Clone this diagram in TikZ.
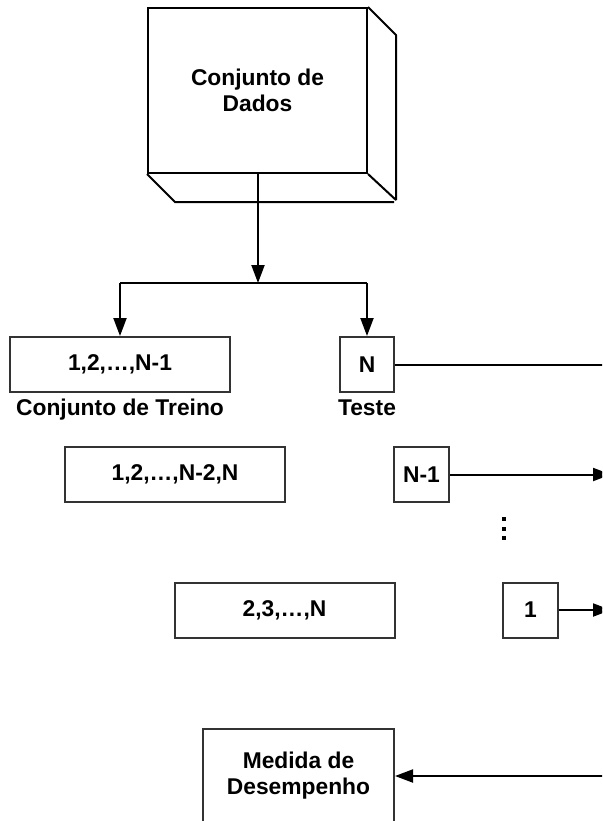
\documentclass[tikz,border=0pt]{standalone}
\usepackage{fontspec}
\setmainfont{Liberation Sans}
\usetikzlibrary{arrows.meta,positioning}
\newcommand{\larg}{602}
\newcommand{\alt}{821}
\newcommand{\prof}{28}

\tikzset{
  caixa/.style={draw=black!80, line width=1pt, fill=white, inner sep=0pt,
    minimum height=27.5pt, align=center,
    font=\fontsize{11.4}{13}\selectfont\bfseries},
  rotulo/.style={inner sep=0pt, font=\fontsize{11.4}{13}\selectfont\bfseries},
  seta/.style={line width=1pt, -{Triangle[length=9pt,width=6.5pt]}},
  linha/.style={line width=1pt},
  ponto/.style={fill=black, inner sep=0pt, minimum size=2pt},
}

\begin{document}
\begin{tikzpicture}[x=0.5pt, y=-0.5pt]
    \useasboundingbox (0,0) rectangle (\larg,\alt);
    \clip (0,0) rectangle (\larg,\alt);
    %
    \node[caixa, draw=black, minimum width=109.5pt,
          minimum height=82.5pt] (dados) at (257.5,90.5)
        {Conjunto de\\Dados};
    \draw[linha, line join=bevel] (dados.north east) -- ++(\prof,\prof)
        -- ++(0,165) -- (dados.south east);
    \draw[linha] (dados.south west) -- ++(\prof,\prof) -- ++(219,0);

    % divisao em treino e teste
    \node[caixa, minimum width=110pt] (treino1) at (120,364.5) {1,2,\dots,N-1};
    \node[caixa, minimum width=27pt] (teste1) at (367,364.5) {N};
    \node[rotulo, below=3pt of treino1] (rottreino) {Conjunto de Treino};
    \node[rotulo, below=3pt of teste1] (rotteste) {Teste};

    \node[caixa, minimum width=110pt] (treino2) at (175,474.5) {1,2,\dots,N-2,N};
    \node[caixa, minimum width=27.5pt] (teste2) at (421.5,474.5) {N-1};

    \node[caixa, minimum width=110pt] (treino3) at (284.5,610) {2,3,\dots,N};
    \node[caixa, minimum width=27.5pt] (teste3) at (530.5,610) {1};

    \node[caixa, minimum width=95.5pt, minimum height=47pt] (medida)
        at (298.5,776) {Medida de\\Desempenho};

    \node[ponto] (p1) at (504,519) {};
    \node[ponto] (p2) at (504,528.5) {};
    \node[ponto] (p3) at (504,538) {};

    % ligacoes
    \coordinate (juncao) at (258,283);
    \coordinate (saida1) at (660,364.5);
    \coordinate (saida2) at (611,474.5);
    \coordinate (saida3) at (611,610);
    \coordinate (volta) at (660,776);

    \draw[seta] (dados.south -| juncao) -- (juncao);
    \draw[linha] (juncao -| treino1.north) -- (juncao -| teste1.north);
    \draw[seta] (juncao -| treino1.north) -- (treino1.north);
    \draw[seta] (juncao -| teste1.north) -- (teste1.north);

    \draw[seta] (teste1.east) -- (saida1);
    \draw[seta] (teste2.east) -- (saida2);
    \draw[seta] (teste3.east) -- (saida3);
    \draw[seta] (volta) -- (medida.east);

  \end{tikzpicture}
\end{document}
